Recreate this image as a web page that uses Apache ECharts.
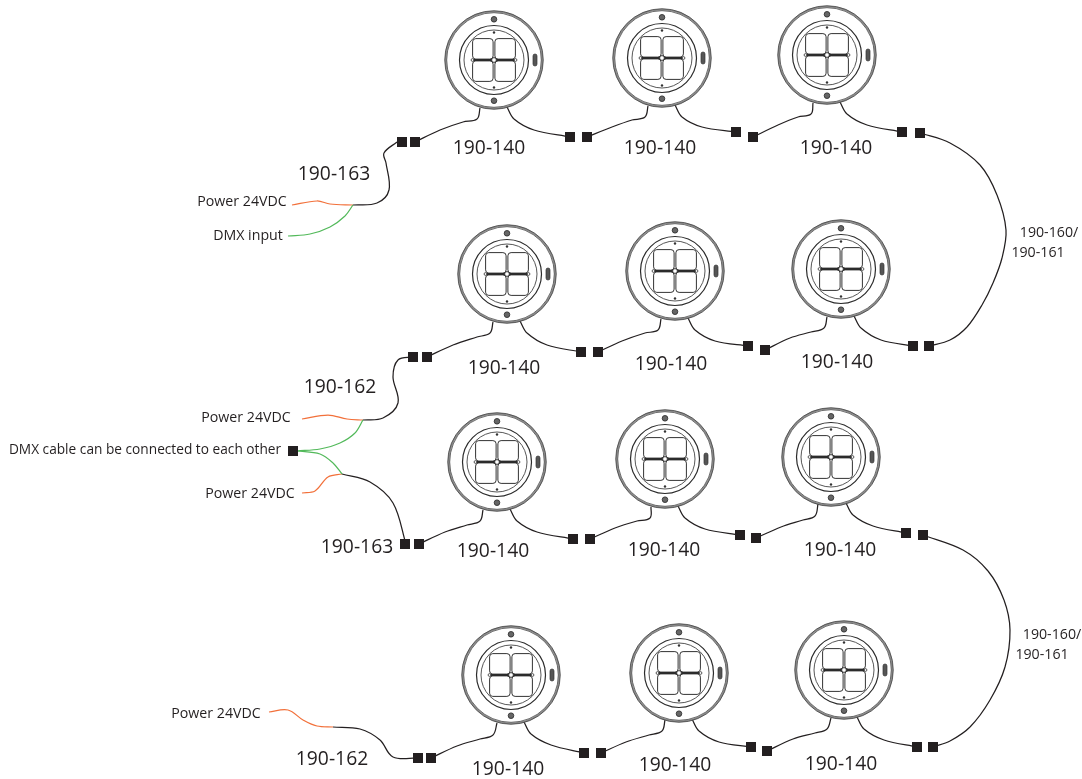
<!DOCTYPE html>
<html><head><meta charset="utf-8">
<style>html,body{margin:0;padding:0;background:#fff}#c{width:1082px;height:779px}</style>
<script src="https://cdn.jsdelivr.net/npm/echarts@6/dist/echarts.min.js"></script>
</head><body><div id="c"></div>
<script>
// Fixture centres (x, y in picture units)
const fixtures = [[494,60],[662,58],[827,55],[507,274],[675,271],[841,269],[497,462],[665,459],[831,457],[511,675],[679,673],[844,670]];
// Connector blocks
const connectors = [[402,142],[415,142],[570,137],[587,137],[736,132],[753,137],[902,132],[920,133],
 [413,357],[427,357],[581,352],[598,352],[748,346],[765,350],[913,346],[929,346],[293,451],
 [405,544],[419,544],[573,539],[590,539],[740,535],[756,538],[906,533],[923,535],
 [418,758],[431,758],[584,753],[601,753],[751,747],[767,751],[917,747],[933,747]];
// Cables
const blackCables = [
 [[353,205],[377,203],[389,190],[386,163],[384,153],[397,142]],
 [[415,142],[440,130],[463,122],[477,119],[480,108]],
 [[507,107],[514,119],[534,130],[570,137]],
 [[587,137],[612,127],[632,120],[645,117],[648,106]],
 [[675,105],[682,117],[702,127],[736,132]],
 [[753,137],[778,125],[798,117],[811,114],[813,103]],
 [[840,102],[847,114],[867,125],[902,132]],
 [[920,133],[950,143],[980,165],[997,195],[1006,230],[1002,258],[993,283],[982,305],[967,327],[950,340],[929,346]],
 [[363,420],[383,418],[398,403],[393,377],[398,360],[413,357]],
 [[427,357],[453,345],[477,337],[490,333],[493,322]],
 [[520,321],[527,333],[547,345],[581,352]],
 [[598,352],[622,341],[645,333],[658,330],[661,319]],
 [[688,318],[695,330],[715,341],[748,346]],
 [[765,350],[790,338],[811,332],[824,328],[827,317]],
 [[854,316],[861,328],[881,340],[913,346]],
 [[342,474],[370,482],[393,503],[406,544]],
 [[419,544],[445,532],[467,525],[480,521],[483,510]],
 [[510,509],[517,521],[537,532],[573,539]],
 [[590,539],[615,528],[637,521],[650,518],[651,507]],
 [[678,506],[685,518],[705,529],[740,535]],
 [[756,538],[781,527],[803,520],[815,516],[818,504]],
 [[846,503],[853,515],[873,526],[906,533]],
 [[923,535],[963,550],[988,571],[1004,600],[1010,630],[1005,667],[990,700],[970,727],[950,741],[933,747]],
 [[333,727],[360,729],[380,740],[393,757],[418,758]],
 [[431,758],[457,746],[480,739],[493,735],[497,723]],
 [[524,722],[531,734],[551,745],[584,753]],
 [[601,753],[626,742],[649,735],[662,731],[665,720]],
 [[692,719],[699,731],[719,742],[751,747]],
 [[767,751],[793,739],[815,733],[827,729],[831,718]],
 [[857,717],[864,729],[884,740],[917,747]]
];
const orangeCables = [
 [[292,205],[317,201],[330,204],[353,205]],
 [[302,419],[328,415],[347,419],[363,420]],
 [[302,493],[315,491],[328,477],[342,474]],
 [[269,712],[288,710],[303,720],[317,726],[333,727]]
];
const greenCables = [
 [[288,236],[310,234],[330,227],[345,216],[353,205]],
 [[297,451],[320,449],[340,443],[355,433],[363,420]],
 [[297,451],[320,454],[333,463],[342,474]]
];
// Texts: x, y, label
const partLabels = [[489,149,'190-140'],[660,149,'190-140'],[836,149,'190-140'],[504,369,'190-140'],[671,365,'190-140'],[837,363,'190-140'],
 [493,552,'190-140'],[664,551,'190-140'],[840,551,'190-140'],[508,770,'190-140'],[675,766,'190-140'],[841,765,'190-140'],
 [334,175,'190-163'],[340,388,'190-162'],[357,548,'190-163'],[332,760,'190-162']];
const noteLabels = [[242,202,'Power 24VDC'],[248,236,'DMX input'],[246,418,'Power 24VDC'],[250,494,'Power 24VDC'],[216,714,'Power 24VDC'],
 [1049,233,'190-160/'],[1038,253,'190-161'],[1052,635,'190-160/'],[1042,655,'190-161']];
const longNote = [[145,450,'DMX cable can be connected to each other']];

const INK='#231f20', ORANGE='#f2703a', GREEN='#52b95a', FONT='"Open Sans","Noto Sans",sans-serif';
function tangent(a,b){const l=Math.hypot(b[0]-a[0],b[1]-a[1])||1;return [(b[0]-a[0])/l,(b[1]-a[1])/l];}
const cableSeries=(list,color)=>list.map(d=>({type:'custom',coordinateSystem:'cartesian2d',data:d,encode:{x:0,y:1},silent:true,clip:false,z:2,
  renderItem:(p,api)=>{
    const i=p.dataIndex; if(i>=d.length-1) return null;
    const P=j=>api.coord(d[Math.max(0,Math.min(d.length-1,j))]);
    const a=P(i),b=P(i+1),l=Math.hypot(b[0]-a[0],b[1]-a[1])/3;
    const t0=tangent(P(i-1),b),t1=tangent(a,P(i+2));
    return {type:'bezierCurve',shape:{x1:a[0],y1:a[1],x2:b[0],y2:b[1],
      cpx1:a[0]+t0[0]*l,cpy1:a[1]+t0[1]*l,cpx2:b[0]-t1[0]*l,cpy2:b[1]-t1[1]*l},
      style:{fill:'none',stroke:color,lineWidth:1.25}};
  }}));
function ring(c,r,w,col){return {type:'circle',shape:{cx:c[0],cy:c[1],r:r},style:{fill:'none',stroke:col||INK,lineWidth:w}};}
function dot(x,y,r,fill,stroke,w){return {type:'circle',shape:{cx:x,cy:y,r:r},style:{fill:fill,stroke:stroke||'none',lineWidth:w||0}};}
function fixtureItem(params,api){
  const c=api.coord([api.value(0),api.value(1)]),k=api.size([1,1])[0],x=c[0],y=c[1];
  const ch=[ring(c,48.3*k,1.8,'#8a8a8a'),ring(c,49.3*k,.7,'#333'),ring(c,47.3*k,.7,'#333'),ring(c,34.5*k,1.2,'#2b2b2b'),ring(c,30*k,.9,'#444')];
  [[-1,-1],[1,-1],[-1,1],[1,1]].forEach(s=>{
    const sz=20.5*k,gap=0.9*k;
    ch.push({type:'rect',shape:{x:s[0]<0?x-gap-sz:x+gap,y:s[1]<0?y-gap-sz:y+gap,width:sz,height:sz,r:3.2*k},style:{fill:'#fff',stroke:'#333',lineWidth:1}});
  });
  ch.push({type:'line',shape:{x1:x-21.5*k,y1:y,x2:x+21.5*k,y2:y},style:{stroke:'#2b2b2b',lineWidth:1.8}});
  ch.push(dot(x,y,2.4*k,'#fff','#333',1));
  ch.push(dot(x-21.5*k,y,1.4*k,'#fff','#333',.8),dot(x+21.5*k,y,1.4*k,'#fff','#333',.8));
  ch.push(dot(x,y-27.5*k,1.2*k,'#333'),dot(x,y+27.5*k,1.2*k,'#333'));
  ch.push(dot(x,y-40.7*k,2.8*k,'#666','#333',.9),dot(x,y+40.7*k,2.8*k,'#666','#333',.9));
  ch.push({type:'rect',shape:{x:x+39*k,y:y-6*k,width:4*k,height:12*k,r:2*k},style:{fill:'#555',stroke:'#333',lineWidth:.7}});
  return {type:'group',children:ch};
}
const textSeries=(list,size)=>({type:'custom',coordinateSystem:'cartesian2d',silent:true,clip:false,z:5,data:list.map(r=>[r[0],r[1]]),encode:{x:0,y:1},
  renderItem:(p,api)=>{const c=api.coord([api.value(0),api.value(1)]);
    return {type:'text',style:{x:c[0],y:c[1],text:list[p.dataIndex][2],fill:INK,font:size+'px '+FONT,align:'center',verticalAlign:'middle'}};}});
const chart=echarts.init(document.getElementById('c'),null,{renderer:'canvas'});
chart.setOption({animation:false,backgroundColor:'#fff',
  grid:{left:0,right:0,top:0,bottom:0},
  xAxis:{type:'value',min:0,max:1082,show:false},
  yAxis:{type:'value',min:0,max:779,inverse:true,show:false},
  series:[
    ...cableSeries(blackCables,INK),...cableSeries(orangeCables,ORANGE),...cableSeries(greenCables,GREEN),
    {type:'custom',coordinateSystem:'cartesian2d',data:fixtures,renderItem:fixtureItem,encode:{x:0,y:1},silent:true,z:3,clip:false},
    {type:'scatter',data:connectors,symbol:'rect',symbolSize:10,itemStyle:{color:INK,opacity:1},silent:true,z:4,clip:false},
    textSeries(partLabels,19.3),
    textSeries(noteLabels,14.2),
    textSeries(longNote,13.7)
  ]});
</script></body></html>
